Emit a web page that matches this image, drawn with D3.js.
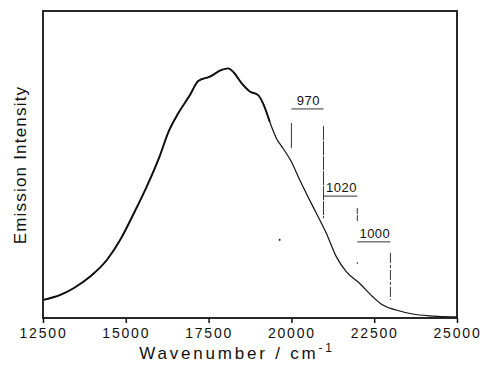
<!DOCTYPE html>
<meta charset="utf-8">
<style>
  body { margin: 0; background: white; }
  .frame { fill: none; stroke: #111; stroke-width: 1.8px; }
  .line { fill: none; stroke: #111; }
  .mark { stroke: #333; stroke-width: 1px; }
  .xAxisFormat text { font: 14px "Liberation Sans", Arial, sans-serif; letter-spacing: 1.8px; fill: #111; }
  .xAxisFormat line { stroke: #111; stroke-width: 1.5px; }
  .xAxisFormat path { display: none; }
  .label { font: 17px "Liberation Sans", Arial, sans-serif; fill: #111; }
  .note { font: 13px "Liberation Sans", Arial, sans-serif; fill: #111; letter-spacing: 0.5px; }
</style>
<body>
<script src="https://d3js.org/d3.v7.min.js"></script>
<script>

// emission spectrum (wavenumber, relative intensity)
var wavenumber = [12518, 13021, 13422, 13925, 14428, 14828, 15229, 15632, 16033, 16283,
                  16584, 16937, 17187, 17539, 17892, 18090, 18241, 18494, 18744, 18994,
                  19144, 19346, 19548, 19747, 19999, 20250, 20500, 20753, 21054, 21355,
                  21656, 22057, 22458, 22759, 23163, 23663, 24166, 24867, 25000];
var intensity  = [0.059, 0.075, 0.097, 0.135, 0.189, 0.254, 0.338, 0.428, 0.530, 0.605,
                  0.667, 0.726, 0.772, 0.786, 0.808, 0.813, 0.802, 0.765, 0.738, 0.726,
                  0.699, 0.639, 0.585, 0.553, 0.509, 0.450, 0.395, 0.341, 0.276, 0.200,
                  0.151, 0.113, 0.069, 0.042, 0.026, 0.013, 0.007, 0.004, 0.004];

// vibronic progression: start position and spacings
var progStart = 20000;
var spacings = [970, 1020, 1000];
var xTicks = [12500, 15000, 17500, 20000, 22500, 25000];

var margin = {top: 11, right: 26, bottom: 54, left: 43},
    width = 483 - margin.left - margin.right,
    height = 372 - margin.top - margin.bottom;

var svg = d3.select("body").append("svg")
    .attr("width", 483)
    .attr("height", 372)
  .append("g")
    .attr("transform", "translate(" + margin.left + "," + margin.top + ")");

var x = d3.scaleLinear().domain([12500, 25000]).range([0, width]);
var y = d3.scaleLinear().domain([0, 1]).range([height, 0]);

var data = wavenumber.map(function(d, i) { return [d, intensity[i]]; });

var valueline = d3.line()
    .curve(d3.curveMonotoneX)
    .x(function(d) { return x(d[0]); })
    .y(function(d) { return y(d[1]); });

// the trace is heavier on the red side, thinner on the blue tail
svg.append("path")
    .datum(data)
    .attr("class", "line")
    .style("stroke-width", 1.2)
    .attr("d", valueline);

svg.append("path")
    .datum(data.filter(function(d) { return d[0] < 19400; }))
    .attr("class", "line")
    .style("stroke-width", 1.9)
    .attr("d", valueline);

// progression brackets
var pos = [progStart];
spacings.forEach(function(s) { pos.push(pos[pos.length - 1] + s); });

var barY = [0.681, 0.397, 0.248];

spacings.forEach(function(s, i) {
  var x0 = x(pos[i]), x1 = x(pos[i + 1]);
  svg.append("line").attr("class", "mark")
      .attr("x1", x0).attr("x2", x1)
      .attr("y1", y(barY[i])).attr("y2", y(barY[i]));
  svg.append("text").attr("class", "note")
      .attr("x", (x0 + x1) / 2 + 1)
      .attr("y", y(barY[i]) - 4)
      .attr("text-anchor", "middle")
      .text(s);
});

// vertical markers under each bracket end
var vLines = [
  {x: pos[0], y0: 0.635, y1: 0.553, dash: null},
  {x: pos[1], y0: 0.625, y1: 0.325, dash: "14,1"},
  {x: pos[2], y0: 0.358, y1: 0.313, dash: "6,1"},
  {x: pos[2], y0: 0.182, y1: 0.176, dash: null},
  {x: pos[3], y0: 0.212, y1: 0.059, dash: "10,2,3,2"}
];
vLines.forEach(function(d) {
  svg.append("line").attr("class", "mark")
      .attr("x1", x(d.x)).attr("x2", x(d.x))
      .attr("y1", y(d.y0)).attr("y2", y(d.y1))
      .style("stroke-dasharray", d.dash);
});

// stray speck in the scan
svg.append("rect")
    .attr("x", x(19620)).attr("y", y(0.258))
    .attr("width", 1.6).attr("height", 2)
    .attr("fill", "#222");

// frame
svg.append("rect")
    .attr("class", "frame")
    .attr("width", width)
    .attr("height", height);

svg.append("g")
    .attr("class", "xAxisFormat")
    .attr("transform", "translate(0," + height + ")")
    .call(d3.axisBottom(x).tickValues(xTicks).tickFormat(d3.format("d")).tickSize(5).tickPadding(5));

// axis titles
var xt = svg.append("text")
    .attr("class", "label")
    .attr("x", width / 2 - 13)
    .attr("y", height + 41)
    .attr("text-anchor", "middle")
    .style("letter-spacing", "2.8px");
xt.append("tspan").text("Wavenumber / cm");
xt.append("tspan").attr("dy", -7).style("font-size", "12px").text("-1");

svg.append("text")
    .attr("class", "label")
    .attr("transform", "rotate(-90)")
    .attr("x", -154)
    .attr("y", -17)
    .attr("text-anchor", "middle")
    .style("letter-spacing", "1.2px")
    .text("Emission Intensity");

</script>
</body>
